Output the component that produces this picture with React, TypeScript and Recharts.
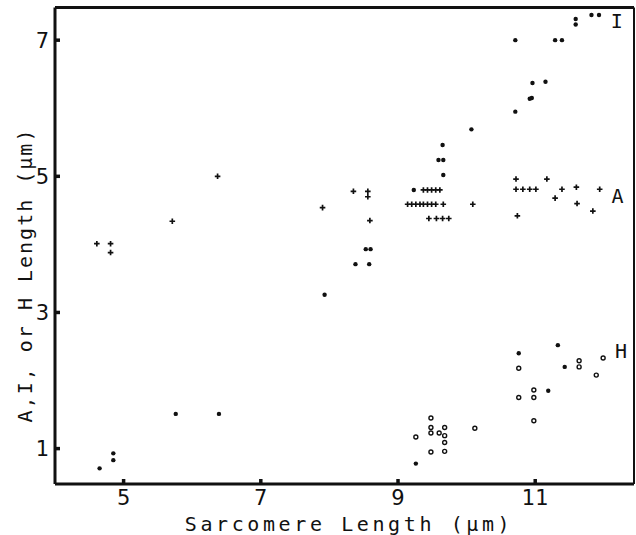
import React from 'react';
import { ScatterChart, Scatter, XAxis, YAxis, ReferenceLine, ReferenceDot, Label } from 'recharts';

// ---- axes ----
const X_TICKS = [5, 7, 9, 11];
const Y_TICKS = [1, 3, 5, 7];
const X_DOMAIN: [number, number] = [4, 12.44];
const Y_DOMAIN: [number, number] = [0.48, 7.48];
const X_TITLE = 'Sarcomere Length (\u03bcm)';
const Y_TITLE = 'A,I, or H Length (\u03bcm)';

// ---- I band (filled dots) ----
const I_BAND = [
  { x: 4.65, y: 0.71 }, { x: 4.85, y: 0.83 }, { x: 4.85, y: 0.93 },
  { x: 5.76, y: 1.51 }, { x: 6.39, y: 1.51 }, { x: 7.93, y: 3.26 },
  { x: 8.38, y: 3.71 }, { x: 8.58, y: 3.71 }, { x: 8.53, y: 3.93 }, { x: 8.6, y: 3.93 },
  { x: 9.23, y: 4.8 }, { x: 9.66, y: 5.02 }, { x: 9.59, y: 5.24 }, { x: 9.66, y: 5.24 },
  { x: 9.65, y: 5.46 }, { x: 10.07, y: 5.69 }, { x: 10.71, y: 5.95 },
  { x: 10.92, y: 6.14 }, { x: 10.95, y: 6.15 }, { x: 10.96, y: 6.37 }, { x: 11.15, y: 6.39 },
  { x: 10.71, y: 7.0 }, { x: 11.29, y: 7.0 }, { x: 11.39, y: 7.0 },
  { x: 11.59, y: 7.23 }, { x: 11.59, y: 7.31 }, { x: 11.82, y: 7.37 }, { x: 11.93, y: 7.37 },
];

// ---- A band (plus marks) ----
const A_BAND = [
  { x: 4.61, y: 4.01 }, { x: 4.81, y: 4.01 }, { x: 4.81, y: 3.88 },
  { x: 5.71, y: 4.34 }, { x: 6.37, y: 5.0 }, { x: 7.9, y: 4.54 },
  { x: 8.35, y: 4.78 }, { x: 8.56, y: 4.78 }, { x: 8.56, y: 4.7 }, { x: 8.59, y: 4.35 },
  { x: 9.37, y: 4.8 }, { x: 9.43, y: 4.8 }, { x: 9.49, y: 4.8 }, { x: 9.55, y: 4.8 }, { x: 9.61, y: 4.8 },
  { x: 9.14, y: 4.59 }, { x: 9.2, y: 4.59 }, { x: 9.26, y: 4.59 }, { x: 9.32, y: 4.59 },
  { x: 9.37, y: 4.59 }, { x: 9.43, y: 4.59 }, { x: 9.49, y: 4.59 }, { x: 9.55, y: 4.59 },
  { x: 9.66, y: 4.59 }, { x: 10.09, y: 4.59 },
  { x: 9.45, y: 4.38 }, { x: 9.56, y: 4.38 }, { x: 9.65, y: 4.38 }, { x: 9.74, y: 4.38 },
  { x: 10.72, y: 4.96 }, { x: 11.17, y: 4.96 },
  { x: 10.72, y: 4.81 }, { x: 10.82, y: 4.81 }, { x: 10.92, y: 4.81 }, { x: 11.01, y: 4.81 },
  { x: 11.39, y: 4.81 }, { x: 11.6, y: 4.84 }, { x: 11.94, y: 4.81 },
  { x: 11.29, y: 4.68 }, { x: 11.61, y: 4.6 }, { x: 11.84, y: 4.49 }, { x: 10.74, y: 4.42 },
];

// ---- H zone (open circles) ----
const H_OPEN = [
  { x: 9.26, y: 1.17 }, { x: 9.48, y: 1.45 }, { x: 9.48, y: 1.31 }, { x: 9.48, y: 1.23 },
  { x: 9.6, y: 1.23 }, { x: 9.68, y: 1.31 }, { x: 9.68, y: 1.19 }, { x: 9.68, y: 1.09 },
  { x: 9.48, y: 0.95 }, { x: 9.68, y: 0.96 }, { x: 10.12, y: 1.3 },
  { x: 10.76, y: 2.18 }, { x: 10.76, y: 1.75 }, { x: 10.98, y: 1.86 }, { x: 10.98, y: 1.75 },
  { x: 10.98, y: 1.41 }, { x: 11.64, y: 2.29 }, { x: 11.64, y: 2.2 }, { x: 11.89, y: 2.08 },
  { x: 11.99, y: 2.33 },
];

// ---- H zone (filled dots) ----
const H_FILLED = [
  { x: 9.26, y: 0.78 }, { x: 10.76, y: 2.4 }, { x: 11.19, y: 1.85 },
  { x: 11.33, y: 2.52 }, { x: 11.43, y: 2.2 },
];

// ---- series labels ----
const BAND_LABELS = [
  { x: 12.19, y: 7.28, text: 'I' },
  { x: 12.2, y: 4.71, text: 'A' },
  { x: 12.25, y: 2.44, text: 'H' },
];

const INK = '#111';
const FONT = '"DejaVu Sans", sans-serif';
const MONO = '"DejaVu Sans Mono", monospace';

const DotShape = (p: any) => <circle cx={p.cx} cy={p.cy} r={2.2} fill={INK} />;
const RingShape = (p: any) => (
  <circle cx={p.cx} cy={p.cy} r={2} fill="#fff" stroke={INK} strokeWidth={1.4} />
);
const PlusShape = (p: any) => (
  <path
    d={`M${p.cx - 2.8},${p.cy}H${p.cx + 2.8}M${p.cx},${p.cy - 2.8}V${p.cy + 2.8}`}
    stroke={INK}
    strokeWidth={1.7}
    fill="none"
  />
);

const titleStyle: React.CSSProperties = {
  fontFamily: MONO,
  fontSize: 20,
  fill: INK,
};

const XTitle = () => (
  <text x={349} y={531} textAnchor="middle" style={{ ...titleStyle, letterSpacing: 3.6 }}>
    {X_TITLE}
  </text>
);
const YTitle = () => (
  <text
    x={25}
    y={275}
    textAnchor="middle"
    dominantBaseline="central"
    transform="rotate(-90 25 275)"
    style={{ ...titleStyle, letterSpacing: 2 }}
  >
    {Y_TITLE}
  </text>
);

export default function App() {
  return (
    <div style={{ position: 'absolute', left: 0, top: 0, width: 636, height: 535, background: '#fff' }}>
      <ScatterChart
        width={636}
        height={535}
        margin={{ top: 7.5, right: 2, left: 0, bottom: 0 }}
      >
        <XAxis
          type="number"
          dataKey="x"
          domain={X_DOMAIN}
          ticks={X_TICKS}
          allowDataOverflow
          height={51}
          axisLine={{ stroke: INK, strokeWidth: 3 }}
          tickLine={{ stroke: INK, strokeWidth: 3.5 }}
          tickSize={-5}
          tickMargin={11}
          tick={{ fill: INK, fontSize: 21, fontFamily: FONT }}
        >
          <Label content={XTitle} />
        </XAxis>
        <YAxis
          type="number"
          dataKey="y"
          domain={Y_DOMAIN}
          ticks={Y_TICKS}
          allowDataOverflow
          width={55}
          axisLine={{ stroke: INK, strokeWidth: 3 }}
          tickLine={{ stroke: INK, strokeWidth: 3.5 }}
          tickSize={-5}
          tickMargin={11}
          tick={{ fill: INK, fontSize: 21, fontFamily: FONT }}
        >
          <Label content={YTitle} />
        </YAxis>
        <ReferenceLine y={Y_DOMAIN[1]} stroke={INK} strokeWidth={3} />
        <ReferenceLine x={X_DOMAIN[1]} stroke={INK} strokeWidth={2} />
        <Scatter data={I_BAND} shape={DotShape} isAnimationActive={false} />
        <Scatter data={A_BAND} shape={PlusShape} isAnimationActive={false} />
        <Scatter data={H_OPEN} shape={RingShape} isAnimationActive={false} />
        <Scatter data={H_FILLED} shape={DotShape} isAnimationActive={false} />
        {BAND_LABELS.map((b) => (
          <ReferenceDot
            key={b.text}
            x={b.x}
            y={b.y}
            r={0}
            fill="none"
            stroke="none"
            label={{ value: b.text, position: 'center', fontSize: 20, fontFamily: MONO, fill: INK }}
          />
        ))}
      </ScatterChart>
    </div>
  );
}
